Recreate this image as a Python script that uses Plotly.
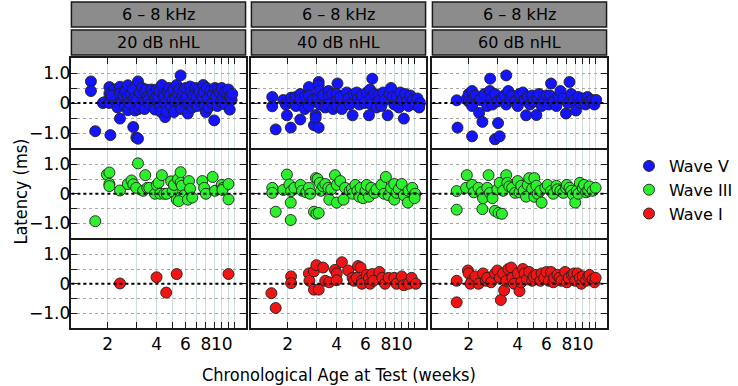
import plotly.graph_objects as go
import math

# ---------------- data (age in weeks, latency difference in ms) ----------------
levels = ["20 dB nHL", "40 dB nHL", "60 dB nHL"]
freq_label = "6 – 8 kHz"
waves = ["Wave V", "Wave III", "Wave I"]

wave_v_20 = [(1.58,0.72),(1.58,0.40),(1.68,-0.94),(1.87,0.0),(1.92,0.03),(2.05,0.53),(2.05,0.31),(2.05,0.0),
             (2.08,-1.07),(2.2,0.45),(2.2,0.1),(2.12,0.25),(2.3,-0.15),(2.38,0.54),(2.38,0.31),(2.38,-0.52),
             (2.45,0.05),(2.5,0.25),(2.55,0.4),(2.55,-0.1),(2.6,0.45),(2.66,0.59),(2.66,0.18),(2.66,-0.24),
             (2.72,0.0),(2.78,0.3),(2.85,0.45),(2.87,-0.8),(2.9,0.15),(2.95,-0.25),(3.0,-1.15),(3.07,-1.19),
             (3.07,0.72),(3.0,0.1),(3.1,-0.2),(3.15,0.35),(3.2,-0.1),(3.25,0.5),(3.37,0.35),(3.37,0.05),
             (3.37,-0.2),(3.45,0.45),(3.5,0.2),(3.55,0.1),(3.6,-0.05),(3.7,0.45),(3.8,0.3),(3.85,0.0),
             (3.9,-0.22),(3.95,0.2),(4.0,0.45),(4.1,0.15),(4.15,0.4),(4.2,-0.1),(4.25,-0.3),(4.3,0.6),
             (4.4,0.3),(4.45,0.2),(4.5,-0.47),(4.5,0.0),(4.6,-0.3),(4.65,0.4),(4.75,0.5),(4.8,0.25),
             (4.9,-0.1),(5.0,0.1),(5.05,0.45),(5.1,-0.3),(5.2,0.15),(5.3,0.6),(5.4,0.3),(5.5,0.05),
             (5.5,0.45),(5.6,0.92),(5.65,-0.2),(5.75,0.25),(5.8,0.4),(5.9,0.1),(6.0,0.5),(6.05,0.0),
             (6.1,0.2),(6.2,-0.35),(6.3,0.0),(6.4,0.55),(6.5,0.35),(6.6,-0.15),(6.7,0.25),(6.8,0.0),
             (6.9,0.5),(7.0,0.2),(7.1,-0.1),(7.2,0.45),(7.3,0.35),(7.4,0.05),(7.6,0.2),(7.7,0.6),
             (7.8,0.35),(7.9,-0.1),(8.0,-0.3),(8.1,0.5),(8.2,0.15),(8.3,-0.15),(8.5,0.4),(8.7,0.0),
             (8.8,0.3),(9.0,-0.58),(9.1,0.5),(9.2,0.2),(9.4,-0.1),(9.5,0.45),(9.7,0.35),(9.9,0.05),
             (10.0,0.5),(10.2,0.2),(10.4,0.35),(10.5,-0.05),(10.8,0.3),(11.0,0.45),(11.2,0.2),
             (11.2,-0.22),(11.5,0.1),(11.6,0.3)]

wave_v_40 = [(1.61,0.2),(1.61,-0.11),(1.69,-0.88),(1.88,0.1),(1.95,-0.05),(1.98,-0.41),(2.09,-0.82),
             (2.1,0.18),(2.1,0.02),(2.25,0.2),(2.25,-0.1),(2.39,0.3),(2.39,0.1),(2.39,-0.55),(2.55,0.2),
             (2.55,-0.2),(2.7,0.53),(2.7,0.25),(2.7,-0.1),(2.85,0.1),(2.9,-0.74),(2.97,-0.4),(2.97,-0.5),
             (3.05,0.15),(3.1,-0.82),(3.1,0.7),(3.1,0.59),(3.12,0.4),(3.15,-0.05),(3.3,0.25),(3.4,-0.15),
             (3.56,0.4),(3.56,0.2),(3.56,-0.05),(3.75,0.3),(3.8,-0.2),(4.04,0.65),(4.0,0.3),(4.0,0.05),
             (4.0,-0.1),(4.2,0.2),(4.3,-0.2),(4.6,0.35),(4.7,0.15),(4.8,-0.05),(5.0,-0.41),(5.1,0.3),
             (5.3,0.35),(5.4,0.15),(5.5,-0.05),(5.7,0.25),(5.9,0.0),(6.1,0.35),(6.3,-0.41),(6.6,0.81),
             (6.4,0.45),(6.5,0.2),(6.5,-0.05),(6.8,0.3),(7.0,-0.15),(7.2,0.25),(7.3,0.08),(7.5,-0.1),
             (7.7,0.35),(7.9,0.1),(8.2,-0.41),(8.4,0.3),(8.6,0.5),(8.8,0.2),(9.0,-0.05),(9.3,0.2),
             (9.6,-0.15),(9.8,0.35),(10.0,0.1),(10.3,-0.52),(10.5,0.3),(10.8,0.05),(11.0,-0.1),
             (11.3,0.25),(11.7,0.1),(12.0,-0.05),(12.5,0.15),(13.0,0.0),(12.8,-0.15)]

wave_v_60 = [(1.69,0.09),(1.71,-0.82),(1.95,0.15),(2.0,0.3),(2.0,0.05),(2.1,0.4),(2.1,0.05),(2.1,-0.1),
             (2.1,-1.11),(2.2,0.25),(2.32,-0.33),(2.35,0.1),(2.43,-0.63),(2.5,0.3),(2.6,-0.1),(2.71,0.81),
             (2.7,0.4),(2.75,0.15),(2.8,-0.05),(2.9,0.3),(2.9,-1.21),(3.03,-0.67),(3.1,-1.11),(3.0,0.05),
             (3.2,0.15),(3.3,0.25),(3.4,0.92),(3.4,-0.05),(3.5,0.4),(3.6,0.1),(3.7,0.25),(3.85,0.05),
             (4.0,-0.1),(4.1,0.3),(4.3,0.35),(4.4,0.1),(4.5,-0.41),(4.6,0.2),(4.75,-0.05),(4.9,0.25),
             (5.0,0.05),(5.2,-0.4),(5.3,0.15),(5.4,0.3),(5.6,-0.1),(5.8,0.1),(6.0,0.25),(6.2,-0.05),
             (6.4,0.65),(6.3,0.25),(6.6,0.05),(6.9,-0.1),(7.1,0.2),(7.3,0.4),(7.6,0.15),(7.9,-0.35),
             (8.3,0.7),(8.1,0.0),(8.5,0.3),(8.8,0.08),(9.1,-0.25),(9.4,0.2),(9.7,0.0),(10.0,0.15),
             (10.4,-0.05),(10.7,0.2),(11.0,0.05),(11.4,0.1),(11.8,-0.05),(12.1,0.1)]

wave_iii_20 = [(1.68,-0.93),(1.98,0.65),(2.05,0.72),(2.05,0.33),(2.05,0.26),(2.38,0.11),(2.66,0.33),
               (2.8,0.45),(2.87,0.32),(2.99,0.2),(3.07,1.03),(3.3,0.1),(3.4,0.63),(3.5,0.2),(3.6,0.2),
               (3.9,0.0),(4.0,0.3),(4.1,0.37),(4.2,0.0),(4.3,0.63),(4.45,0.0),(4.6,0.0),(4.9,0.42),
               (5.0,0.08),(5.1,0.3),(5.3,-0.2),(5.4,0.5),(5.6,0.73),(5.6,0.37),(5.7,0.27),(5.6,-0.13),
               (5.9,-0.05),(5.45,-0.25),(6.3,0.43),(6.4,0.17),(6.2,-0.2),(6.6,-0.13),(7.6,0.43),(7.8,0.2),
               (8.0,0.0),(8.8,0.57),(9.1,0.1),(10.0,0.3),(10.2,0.2),(10.1,0.13),(11.0,0.33),(11.0,-0.19)]

wave_iii_40 = [(1.61,0.2),(1.61,0.03),(1.69,-0.61),(1.88,0.13),(1.98,0.65),(2.05,0.31),(2.1,0.09),
               (2.09,-0.3),(2.09,-0.89),(2.2,0.2),(2.4,0.3),(2.45,0.1),(2.6,0.05),(2.7,0.2),(2.75,0.0),
               (2.98,0.53),(3.05,0.5),(3.15,0.37),(3.2,0.1),(3.3,0.25),(3.4,0.33),(2.9,-0.61),(3.0,-0.68),
               (3.1,-0.65),(3.55,0.2),(3.6,-0.2),(3.7,0.15),(3.9,0.63),(4.0,0.3),(4.2,0.43),(4.0,-0.3),
               (4.4,-0.2),(4.5,0.2),(4.8,0.1),(4.95,0.17),(5.0,0.0),(5.2,0.3),(5.35,0.1),(5.5,-0.1),
               (5.6,0.2),(5.8,-0.15),(6.0,0.1),(6.1,0.3),(6.3,-0.1),(6.5,0.2),(6.8,0.03),(7.0,0.15),
               (7.5,0.3),(7.8,0.0),(8.0,0.57),(8.3,-0.05),(8.6,0.2),(9.0,0.33),(9.0,-0.2),(9.3,0.03),
               (9.6,0.15),(10.0,0.33),(10.3,-0.05),(10.9,-0.3),(11.0,0.1),(11.6,0.2),(12.1,0.0),(12.0,-0.15)]

wave_iii_60 = [(1.69,0.09),(1.69,-0.54),(1.95,0.63),(1.93,0.2),(2.1,0.3),(2.15,0.05),(2.3,0.2),(2.4,0.05),
               (2.45,-0.15),(2.43,-0.52),(2.65,0.63),(2.6,0.2),(2.7,0.03),(2.8,-0.15),(2.9,-0.58),
               (3.05,-0.65),(3.2,-0.68),(3.0,0.15),(3.1,0.37),(3.25,0.1),(3.4,0.63),(3.45,0.37),(3.55,0.25),
               (3.7,0.2),(3.85,0.03),(4.0,0.43),(4.1,0.05),(4.2,0.27),(4.35,0.1),(4.5,-0.1),(4.6,0.3),
               (4.7,0.53),(4.9,0.17),(5.05,0.53),(5.2,0.27),(5.05,-0.1),(5.3,0.0),(5.6,-0.3),(5.5,0.1),
               (5.9,0.2),(6.1,0.3),(6.4,0.1),(6.6,0.0),(6.9,0.27),(7.0,0.15),(7.3,0.1),(7.6,0.03),
               (7.9,0.2),(8.0,0.3),(8.3,0.2),(8.5,0.1),(8.7,-0.03),(9.0,-0.3),(9.2,0.1),(9.4,0.0),
               (9.6,0.37),(10.0,0.2),(10.2,0.3),(10.5,0.05),(10.8,0.1),(11.0,0.25),(11.5,0.1),(12.0,0.2)]

wave_i_20 = [(2.38,0.01),(3.99,0.22),(4.57,-0.3),(5.3,0.33),(11.0,0.33)]

wave_i_40 = [(1.59,-0.32),(1.69,-0.82),(2.1,0.25),(2.1,0.02),(2.7,0.35),(2.72,0.1),(2.9,0.42),(3.0,0.63),
             (2.9,-0.2),(3.1,-0.2),(3.3,0.55),(3.4,0.1),(3.6,0.05),(3.9,0.47),(4.0,0.35),(4.0,0.12),
             (4.3,0.73),(4.7,0.45),(5.0,0.2),(5.1,0.1),(5.4,0.6),(5.6,0.55),(5.3,0.2),(5.7,0.1),(5.7,0.0),
             (6.1,0.3),(6.3,0.2),(6.6,0.33),(6.4,0.0),(6.7,0.1),(7.3,0.4),(7.6,0.2),(7.9,0.0),(8.3,0.2),
             (9.0,0.2),(9.3,0.0),(10.0,0.25),(10.3,-0.05),(11.0,0.0),(11.5,0.2),(12.2,0.0)]

wave_i_60 = [(1.69,0.1),(1.69,-0.63),(1.98,0.45),(2.0,0.35),(2.1,0.1),(2.05,0.0),(2.2,0.25),(2.3,0.0),
             (2.45,0.35),(2.55,0.1),(2.6,0.2),(2.75,0.05),(2.9,0.35),(3.0,0.45),(3.1,0.2),(3.25,0.35),
             (3.15,-0.55),(3.3,-0.22),(3.4,0.1),(3.5,0.5),(3.65,0.55),(3.7,0.2),(3.8,0.0),(4.0,0.35),
             (4.1,-0.25),(4.2,0.05),(4.3,0.5),(4.4,0.35),(4.55,0.15),(4.7,0.4),(4.9,0.1),(5.0,0.25),
             (5.2,0.3),(5.5,0.1),(5.6,0.35),(5.8,0.2),(6.0,0.4),(6.2,0.1),(6.4,0.4),(6.6,0.05),(6.7,0.2),
             (7.0,0.3),(7.2,0.2),(7.4,0.1),(7.8,0.4),(8.0,0.05),(8.2,0.2),(8.6,0.3),(8.8,0.35),(9.0,0.1),
             (9.3,0.35),(9.6,0.2),(9.8,0.0),(10.0,0.25),(10.5,0.1),(10.8,0.25),(11.0,0.3),(11.5,0.15),
             (11.8,0.05),(12.0,0.2)]

panel_data = {
    ("Wave V", 0): wave_v_20, ("Wave V", 1): wave_v_40, ("Wave V", 2): wave_v_60,
    ("Wave III", 0): wave_iii_20, ("Wave III", 1): wave_iii_40, ("Wave III", 2): wave_iii_60,
    ("Wave I", 0): wave_i_20, ("Wave I", 1): wave_i_40, ("Wave I", 2): wave_i_60,
}

x_tick_vals = [2, 3, 4, 5, 6, 7, 8, 9, 10, 11, 12]
x_tick_text = ["2", "", "4", "", "6", "", "8", "", "10", "", ""]
y_tick_vals = [-1.0, -0.5, 0.0, 0.5, 1.0]
y_tick_text = ["\u22121.0", "", "0", "", "1.0"]

colors = {"Wave V": "#1414ff", "Wave III": "#2cf02c", "Wave I": "#f01414"}

# ---------------- layout geometry ----------------
W, H = 738, 386
LW = 1.5
col_px = [(73, 251), (257, 435), (442, 620)]
row_px = [(58, 148), (148 + LW, 238), (238 + LW, 328)]
strip_px = [(2, 27), (30, 55)]
x_range = [math.log10(1.2), math.log10(14.0)]
y_range = [-1.5, 1.5]

TICKFONT = dict(family="DejaVu Sans", size=17, color="black")
LINEC = "#1a1a1a"

fig = go.Figure()
layout = dict(width=W, height=H, margin=dict(l=0, r=0, t=0, b=0),
              paper_bgcolor="white", plot_bgcolor="white", showlegend=True)
shapes = []
annotations = []

for r, wave in enumerate(waves):
    for c in range(3):
        k = r * 3 + c + 1
        xs = "" if k == 1 else str(k)
        pts = panel_data[(wave, c)]
        fig.add_trace(go.Scatter(
            x=[p[0] for p in pts], y=[p[1] for p in pts], mode="markers",
            name=wave, legendgroup=wave, showlegend=(c == 0),
            marker=dict(size=11, color=colors[wave], line=dict(color="#202020", width=0.9)),
            xaxis="x" + xs, yaxis="y" + xs, cliponaxis=True))
        x0, x1 = col_px[c]
        y0, y1 = row_px[r]
        xa = dict(type="log", range=x_range, domain=[x0 / W, x1 / W], anchor="y" + xs,
                  tickvals=x_tick_vals, ticktext=x_tick_text, showgrid=True, gridcolor="#cfdcdc",
                  gridwidth=1, showline=True, mirror=True, linecolor=LINEC, linewidth=LW,
                  zeroline=False, tickfont=TICKFONT, ticklen=6, tickcolor=LINEC, tickwidth=1.2,
                  tickangle=0)
        if r == 0:
            xa.update(side="top", ticks="inside", showticklabels=False)
        elif r == 2:
            xa.update(side="bottom", ticks="inside", showticklabels=True)
        else:
            xa.update(ticks="", showticklabels=False)
        ya = dict(range=y_range, domain=[1 - y1 / H, 1 - y0 / H], anchor="x" + xs,
                  tickvals=y_tick_vals, ticktext=y_tick_text, showgrid=True, gridcolor="#a8a8a8",
                  griddash="dot", gridwidth=1, showline=True, mirror="ticks", linecolor=LINEC,
                  linewidth=LW, zeroline=False, ticks="inside", ticklen=6, tickcolor=LINEC,
                  tickwidth=1.2, tickfont=TICKFONT, showticklabels=(c == 0), ticklabelstandoff=-4)
        layout["xaxis" + xs] = xa
        layout["yaxis" + xs] = ya
        shapes.append(dict(type="line", xref="x" + xs + " domain", yref="y" + xs,
                           x0=0, x1=1, y0=0, y1=0, layer="above",
                           line=dict(color="black", width=2, dash="dot")))

# strips
for c in range(3):
    x0, x1 = col_px[c]
    for i, (s0, s1) in enumerate(strip_px):
        shapes.append(dict(type="rect", xref="paper", yref="paper",
                           x0=x0 / W, x1=x1 / W, y0=1 - s1 / H, y1=1 - s0 / H,
                           fillcolor="#8c8c8c", line=dict(color=LINEC, width=1.5), layer="below"))
        annotations.append(dict(text=freq_label if i == 0 else levels[c], xref="paper", yref="paper",
                                x=(x0 + x1) / 2 / W, y=1 - (s0 + s1) / 2 / H, showarrow=False,
                                xanchor="center", yanchor="middle",
                                font=dict(family="DejaVu Sans", size=16, color="black")))

annotations.append(dict(text="Chronological Age at Test (weeks)", xref="paper", yref="paper",
                        x=((col_px[0][0] + col_px[2][1]) / 2) / W, y=1 - 374 / H, showarrow=False,
                        xanchor="center", yanchor="middle",
                        font=dict(family="DejaVu Sans Condensed", size=18, color="black")))
annotations.append(dict(text="Latency (ms)", xref="paper", yref="paper", textangle=-90,
                        x=20 / W, y=1 - 192 / H, showarrow=False, xanchor="center", yanchor="middle",
                        font=dict(family="DejaVu Sans Condensed", size=18, color="black")))

layout["shapes"] = shapes
layout["annotations"] = annotations
layout["legend"] = dict(x=643 / W, y=1 - 190 / H, xanchor="left", yanchor="middle",
                        font=dict(family="DejaVu Sans", size=16, color="black"),
                        bgcolor="rgba(0,0,0,0)", tracegroupgap=0, itemwidth=30)
fig.update_layout(**layout)
fig.write_html("out.html", config={"displayModeBar": False},
               post_script="document.body.style.margin='0px';")
